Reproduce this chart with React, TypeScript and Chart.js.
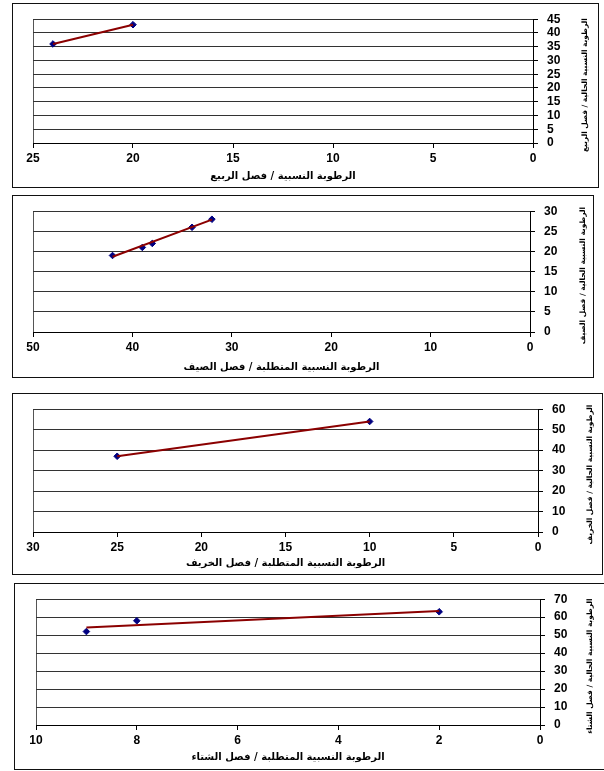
import React, { useEffect, useRef } from "react";
import { Chart, registerables } from "chart.js";

Chart.register(...registerables);

// ---- Data ----
// Spring
const springRequired = [24, 20];
const springActual = [36, 43];
const springTrendX = [24, 20];
const springTrendY = [36, 43];
const springXTitle = "الرطوبة النسبية / فصل الربيع";
const springYTitle = "الرطوبة النسبية الحالية / فصل الربيع";

// Summer
const summerRequired = [42, 39, 38, 34, 32];
const summerActual = [19, 21, 22, 26, 28];
const summerTrendX = [42, 32];
const summerTrendY = [18.7, 27.9];
const summerXTitle = "الرطوبة النسبية المتطلبة / فصل الصيف";
const summerYTitle = "الرطوبة النسبية الحالية / فصل الصيف";

// Autumn
const autumnRequired = [25, 10];
const autumnActual = [37, 54];
const autumnTrendX = [25, 10];
const autumnTrendY = [37, 54];
const autumnXTitle = "الرطوبة النسبية المتطلبة / فصل الخريف";
const autumnYTitle = "الرطوبة النسبية الحالية / فصل الخريف";

// Winter
const winterRequired = [9, 8, 2];
const winterActual = [52, 58, 63];
const winterTrendX = [9, 2];
const winterTrendY = [54.3, 63.5];
const winterXTitle = "الرطوبة النسبية المتطلبة / فصل الشتاء";
const winterYTitle = "الرطوبة النسبية الحالية / فصل الشتاء";

// Axis ranges / tick steps
const xMaxes = [25, 50, 30, 10];
const xSteps = [5, 10, 5, 2];
const yMaxes = [45, 30, 60, 70];
const ySteps = [5, 5, 10, 10];

// ---- Layout (page pixels) ----
type Layout = {
  box: [number, number, number, number]; // left, top, width, height
  plot: [number, number, number, number]; // left, top, right, bottom (page)
  xDy: number;
  yDx: number;
};
const layouts: Layout[] = [
  { box: [12, 3, 587, 185], plot: [33, 17, 533, 143], xDy: 33, yDx: 52 },
  { box: [12, 195, 582, 183], plot: [33, 210, 530, 332], xDy: 35, yDx: 53 },
  { box: [12, 393, 591, 182], plot: [33, 409, 538, 532], xDy: 31, yDx: 52 },
  { box: [14, 583, 600, 187], plot: [36, 598, 540, 725], xDy: 32, yDx: 50 },
];

const Y_AXIS_W = 60;
const X_AXIS_H = 30;

const titlesPlugin = {
  id: "axisTitles",
  afterDraw(chart: any, _args: any, opts: any) {
    const { ctx, chartArea } = chart;
    ctx.save();
    ctx.fillStyle = "#000";
    ctx.textAlign = "center";
    ctx.textBaseline = "middle";
    ctx.font = 'bold 10px "DejaVu Sans"';
    ctx.fillText(opts.xText, (chartArea.left + chartArea.right) / 2, chartArea.bottom + opts.xDy);
    ctx.translate(chartArea.right + opts.yDx, (chartArea.top + chartArea.bottom) / 2 + 4);
    ctx.rotate(-Math.PI / 2);
    ctx.font = 'bold 7.4px "DejaVu Sans"';
    ctx.fillText(opts.yText, 0, 0);
    ctx.restore();
  },
};

type PanelProps = {
  idx: number;
  xs: number[];
  ys: number[];
  tx: number[];
  ty: number[];
  xTitle: string;
  yTitle: string;
};

function Panel({ idx, xs, ys, tx, ty, xTitle, yTitle }: PanelProps) {
  const ref = useRef<HTMLCanvasElement | null>(null);
  const lay = layouts[idx];
  const [bl, bt, bw, bh] = lay.box;

  useEffect(() => {
    if (!ref.current) return;
    const [pl, pt, pr, pb] = lay.plot;
    const padLeft = pl - bl;
    const padTop = pt - bt;
    const padRight = bw - (pr - bl) - Y_AXIS_W;
    const padBottom = bh - (pb - bt) - X_AXIS_H;
    const xMax = xMaxes[idx];
    const tickFont = { family: '"Liberation Sans", Arial, sans-serif', size: 12, weight: "bold" as const };

    const chart = new Chart(ref.current, {
      type: "scatter",
      data: {
        datasets: [
          {
            label: "trend",
            data: tx.map((x, i) => ({ x, y: ty[i] })),
            showLine: true,
            borderColor: "#8B0000",
            borderWidth: 2,
            pointRadius: 0,
            order: 1,
          },
          {
            label: "data",
            data: xs.map((x, i) => ({ x, y: ys[i] })),
            showLine: false,
            pointStyle: "rectRot",
            pointRadius: 3.3,
            backgroundColor: "#000080",
            borderColor: "#000080",
            borderWidth: 1,
            order: 2,
          },
        ],
      },
      options: {
        animation: false,
        responsive: false,
        maintainAspectRatio: false,
        layout: { padding: { left: padLeft, top: padTop, right: padRight, bottom: padBottom } },
        plugins: {
          legend: { display: false },
          tooltip: { enabled: false },
          axisTitles: { xText: xTitle, yText: yTitle, xDy: lay.xDy, yDx: lay.yDx },
        } as any,
        scales: {
          x: {
            type: "linear",
            reverse: true,
            min: 0,
            max: xMax,
            ticks: { stepSize: xSteps[idx], color: "#000", font: tickFont, padding: 3, maxRotation: 0, autoSkip: false },
            grid: {
              color: (c: any) => (c.tick && c.tick.value === xMax ? "#555" : "rgba(0,0,0,0)"),
              tickColor: "#000",
              tickLength: 5,
              lineWidth: 1,
            },
            border: { display: true, color: "#000", width: 1 },
            afterFit: (s: any) => {
              s.height = X_AXIS_H;
            },
          },
          y: {
            type: "linear",
            position: "right",
            min: 0,
            max: yMaxes[idx],
            ticks: { stepSize: ySteps[idx], color: "#000", font: tickFont, padding: 9, autoSkip: false },
            grid: { color: "#333", tickColor: "#000", tickLength: 5, lineWidth: 1 },
            border: { display: true, color: "#000", width: 1 },
            afterFit: (s: any) => {
              s.width = Y_AXIS_W;
            },
          },
        },
      },
      plugins: [titlesPlugin],
    });
    return () => chart.destroy();
  }, []);

  return (
    <>
      <canvas
        ref={ref}
        width={bw}
        height={bh}
        style={{ position: "absolute", left: bl, top: bt, width: bw, height: bh }}
      />
      <div
        style={{
          position: "absolute",
          left: bl,
          top: bt,
          width: bw,
          height: bh,
          border: "1px solid #111",
          boxSizing: "border-box",
          pointerEvents: "none",
        }}
      />
    </>
  );
}

export default function App() {
  return (
    <div
      style={{
        position: "absolute",
        left: 0,
        top: 0,
        width: 604,
        height: 771,
        overflow: "hidden",
        background: "#fff",
      }}
    >
      <Panel idx={0} xs={springRequired} ys={springActual} tx={springTrendX} ty={springTrendY} xTitle={springXTitle} yTitle={springYTitle} />
      <Panel idx={1} xs={summerRequired} ys={summerActual} tx={summerTrendX} ty={summerTrendY} xTitle={summerXTitle} yTitle={summerYTitle} />
      <Panel idx={2} xs={autumnRequired} ys={autumnActual} tx={autumnTrendX} ty={autumnTrendY} xTitle={autumnXTitle} yTitle={autumnYTitle} />
      <Panel idx={3} xs={winterRequired} ys={winterActual} tx={winterTrendX} ty={winterTrendY} xTitle={winterXTitle} yTitle={winterYTitle} />
    </div>
  );
}
